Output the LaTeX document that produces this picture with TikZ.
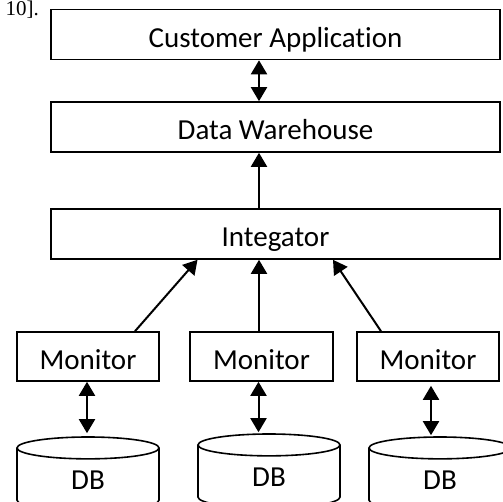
\documentclass[tikz,border=0pt]{standalone}
\usepackage{fontspec}
\setmainfont{Carlito}[Ligatures=NoCommon]
\newfontfamily\refserif{Liberation Serif}
\usetikzlibrary{shapes.geometric, arrows.meta, positioning, calc}
\tikzset{
    >=Triangle,
    % Shapes
    box/.style={draw, line width=1.6pt, rectangle, minimum height=50pt,
                inner sep=0pt, text height=26pt, text depth=0pt,
                font=\fontsize{29}{34}\selectfont},
    db/.style={cylinder, draw, line width=1.6pt, shape border rotate=90, aspect=0.65,
               minimum width=142pt, minimum height=74pt, inner sep=0pt,
               anchor=shape center, font=\fontsize{29}{34}\selectfont},
    % Flow
    flow/.style={-{Triangle[length=14pt,width=16pt]}, line width=2pt},
    dflow/.style={{Triangle[length=14pt,width=16pt]}-{Triangle[length=14pt,width=16pt]}, line width=2pt}
}

\begin{document}
\begin{tikzpicture}[x=1pt, y=-1pt]

\useasboundingbox (0,0) rectangle (503,502);
\clip (0,0) rectangle (503,502);

\node[anchor=base east, inner sep=0pt, font=\refserif\fontsize{21}{23}\selectfont] (ref) at (39,16) {10].};

\node[box, minimum width=449pt] (app) at (275.5,34.5) {Customer Application};
\node[box, minimum width=449pt] (dw) at (275.5,127) {Data Warehouse};
\node[box, minimum width=449pt] (integ) at (275.5,234) {Integator};

\node[box, minimum width=142pt, minimum height=49pt] (mon1) at (88,356.5) {Monitor};
\node[box, minimum width=143pt, minimum height=49pt] (mon2) at (261.5,356.5) {Monitor};
\node[box, minimum width=142pt, minimum height=49pt] (mon3) at (428,356.5) {Monitor};

\node[db] (db1) at (88,474) {DB};
\node[db] (db2) at (269,471) {DB};
\node[db] (db3) at (440,474) {DB};

\draw[dflow] ([xshift=-16.5pt]app.south) -- ([xshift=-16.5pt]dw.north);
\draw[flow] ([xshift=-16.5pt]integ.north) -- ([xshift=-16.5pt]dw.south);

\draw[flow] ([xshift=47pt]mon1.north) -- ([xshift=-78pt]integ.south);
\draw[flow] ([xshift=-2.5pt]mon2.north) -- ([xshift=-16.5pt]integ.south);
\draw[flow] ([xshift=-47pt]mon3.north) -- ([xshift=57.5pt]integ.south);

\draw[dflow, shorten >=3pt] ([xshift=-1pt]mon1.south) -- ([xshift=-1pt]mon1.south |- db1.north);
\draw[dflow, shorten >=1pt] ([xshift=-3pt]mon2.south) -- ([xshift=-3pt]mon2.south |- db2.north);
\draw[dflow, shorten <=4pt, shorten >=1pt] ([xshift=3pt]mon3.south) -- ([xshift=3pt]mon3.south |- db3.north);

\end{tikzpicture}
\end{document}
